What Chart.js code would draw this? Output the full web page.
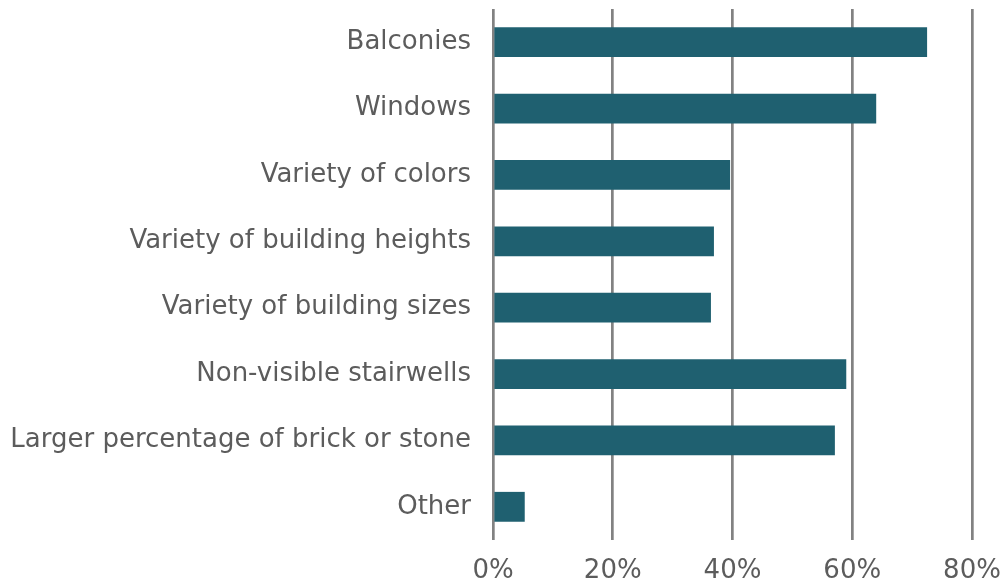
<!DOCTYPE html>
<html>
<head>
<meta charset="utf-8">
<script src="https://cdn.jsdelivr.net/npm/chart.js@4"></script>
<style>
  html, body { margin: 0; padding: 0; background: #fff; }
  #wrap { width: 1005px; height: 587px; }
</style>
</head>
<body>
<div id="wrap"><canvas id="chart" width="1005" height="587"></canvas></div>
<script>
// ── Data ────────────────────────────────────────────
const categories = [
    "Balconies",
    "Windows",
    "Variety of colors",
    "Variety of building heights",
    "Variety of building sizes",
    "Non-visible stairwells",
    "Larger percentage of brick or stone",
    "Other"
];
const shares    = [72.5, 64.0, 39.6, 36.9, 36.4, 59.0, 57.1, 5.3];
const xTicks    = [0, 20, 40, 60, 80];

const BAR   = "#1f6070";
const GRID  = "#828282";
const TEXT  = "#5c5c5c";
const FONT  = "'DejaVu Sans', sans-serif";

new Chart(document.getElementById("chart").getContext("2d"), {
    type: "bar",
    data: {
        labels: categories,
        datasets: [{
            data: shares,
            backgroundColor: BAR,
            borderWidth: 0,
            barPercentage: 0.45,
            categoryPercentage: 1
        }]
    },
    options: {
        indexAxis: "y",
        responsive: false,
        animation: false,
        layout: { padding: { top: 9, right: 0, bottom: 2, left: 0 } },
        plugins: { legend: { display: false }, tooltip: { enabled: false } },
        scales: {
            x: {
                min: 0,
                max: 80,
                afterBuildTicks: s => { s.ticks = xTicks.map(v => ({ value: v })); },
                // keep plot area fixed: bottom at 540, right gridline at 972
                afterFit: s => { s.height = 45; s.paddingLeft = 0; s.paddingRight = 33; },
                ticks: {
                    callback: v => v + "%",
                    color: TEXT,
                    font: { family: FONT, size: 26 },
                    padding: 16
                },
                grid: { color: GRID, lineWidth: 2.7, drawTicks: false },
                border: { display: false }
            },
            y: {
                afterFit: s => { s.width = 493; s.paddingTop = 0; s.paddingBottom = 0; },
                ticks: {
                    color: TEXT,
                    font: { family: FONT, size: 26 },
                    padding: 0
                },
                grid: { display: false, drawTicks: true, tickLength: 22 },
                border: { display: false }
            }
        }
    }
});
</script>
</body>
</html>
